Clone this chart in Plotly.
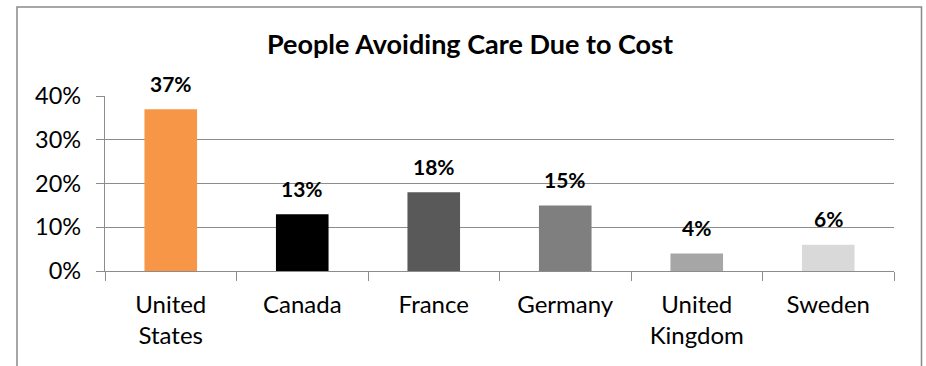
import plotly.graph_objects as go

categories = ["United<br>States", "Canada", "France", "Germany", "United<br>Kingdom", "Sweden"]
values = [0.37, 0.13, 0.18, 0.15, 0.04, 0.06]
bar_colors = ["#F79646", "#000000", "#595959", "#7F7F7F", "#A6A6A6", "#D9D9D9"]
y_ticks = [0, 0.1, 0.2, 0.3, 0.4]
y_tick_labels = ["0%", "10%", "20%", "30%", "40%"]
title_text = "People Avoiding Care Due to Cost"

FONT = "Lato, Carlito, Calibri, sans-serif"
GRID = "#8C8C8C"

fig = go.Figure()
fig.add_trace(go.Bar(
    x=categories, y=values,
    marker=dict(color=bar_colors, line=dict(width=0)),
    hoverinfo="skip",
))

for c, v in zip(categories, values):
    fig.add_annotation(
        x=c, y=v, xref="x", yref="y",
        text="<b>%d%%</b>" % round(v * 100),
        showarrow=False, yshift=26, yanchor="middle",
        font=dict(family=FONT, size=21, color="#000000"),
    )

# outer chart border
fig.add_shape(type="rect", xref="paper", yref="paper",
              x0=(17 - 105) / 789, x1=(921.5 - 105) / 789,
              y0=-0.7, y1=(271 - 7) / 175,
              line=dict(color="#898989", width=1.5), fillcolor="rgba(0,0,0,0)",
              layer="below")

fig.update_layout(
    width=926, height=366,
    margin=dict(l=105, r=32, t=96, b=95),
    paper_bgcolor="white", plot_bgcolor="white",
    bargap=0.6,
    showlegend=False,
    title=dict(text="<b>" + title_text + "</b>", xref="container", yref="container",
               x=470 / 926, xanchor="center", y=1 - 45 / 366, yanchor="middle",
               font=dict(family=FONT, size=27, color="#000000")),
    font=dict(family=FONT, size=24, color="#000000"),
    xaxis=dict(
        type="category", showgrid=False, showline=True, linecolor=GRID, linewidth=1.2,
        ticks="outside", tickson="boundaries", ticklen=9, tickcolor=GRID, tickwidth=1.2,
        tickfont=dict(family=FONT, size=24, color="#000000"),
        ticklabelstandoff=12, fixedrange=True,
    ),
    yaxis=dict(
        range=[0, 0.4], tickvals=y_ticks, ticktext=y_tick_labels,
        showgrid=True, gridcolor=GRID, gridwidth=1.2,
        showline=True, linecolor=GRID, linewidth=1.2,
        zeroline=False,
        ticks="outside", ticklen=8, tickcolor=GRID, tickwidth=1.2,
        tickfont=dict(family=FONT, size=23.5, color="#000000"),
        ticklabelstandoff=10, fixedrange=True,
    ),
)

fig.write_html("out.html")
